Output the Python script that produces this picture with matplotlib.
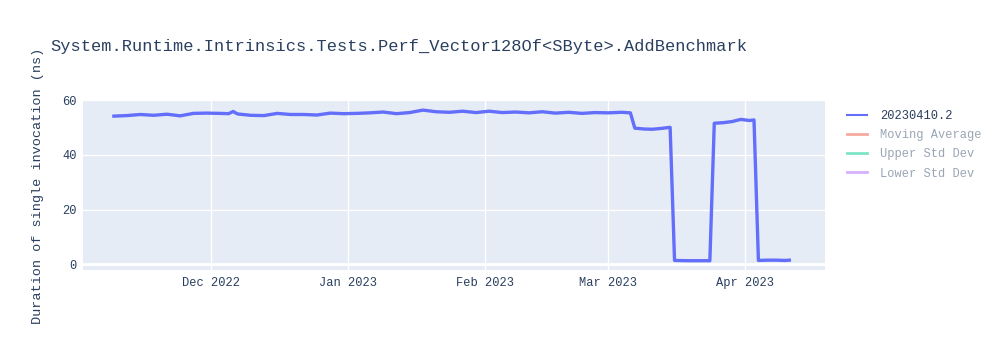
import matplotlib
matplotlib.use("Agg")
import matplotlib.pyplot as plt
import matplotlib.dates as mdates
from matplotlib.lines import Line2D
from datetime import datetime

# ---------------- data ----------------
dates = [
    "2022-11-09", "2022-11-12", "2022-11-15", "2022-11-18", "2022-11-21", "2022-11-24",
    "2022-11-27", "2022-11-30", "2022-12-03", "2022-12-05", "2022-12-06", "2022-12-07",
    "2022-12-10", "2022-12-13", "2022-12-16", "2022-12-19", "2022-12-22", "2022-12-25",
    "2022-12-28", "2022-12-31", "2023-01-03", "2023-01-06", "2023-01-09", "2023-01-12",
    "2023-01-15", "2023-01-18", "2023-01-21", "2023-01-24", "2023-01-27", "2023-01-30",
    "2023-02-02", "2023-02-05", "2023-02-08", "2023-02-11", "2023-02-14", "2023-02-17",
    "2023-02-20", "2023-02-23", "2023-02-26", "2023-03-01", "2023-03-04", "2023-03-06",
    "2023-03-07", "2023-03-09", "2023-03-11", "2023-03-13", "2023-03-15",
    "2023-03-16", "2023-03-19", "2023-03-22", "2023-03-24",
    "2023-03-25", "2023-03-27", "2023-03-29", "2023-03-31", "2023-04-02", "2023-04-03",
    "2023-04-04", "2023-04-06", "2023-04-08", "2023-04-10", "2023-04-11",
]
durations = [
    54.2, 54.4, 54.8, 54.5, 54.9, 54.3,
    55.2, 55.3, 55.2, 55.1, 55.9, 55.0,
    54.5, 54.4, 55.2, 54.8, 54.8, 54.6,
    55.3, 55.1, 55.2, 55.4, 55.7, 55.1,
    55.5, 56.4, 55.8, 55.6, 56.0, 55.5,
    56.0, 55.5, 55.7, 55.4, 55.8, 55.3,
    55.6, 55.2, 55.5, 55.4, 55.6, 55.4,
    49.8, 49.5, 49.4, 49.7, 50.1,
    1.4, 1.3, 1.3, 1.3,
    51.6, 51.8, 52.2, 53.0, 52.6, 52.8,
    1.4, 1.5, 1.5, 1.4, 1.5,
]
series_name = "20230410.2"
legend_labels = [series_name, "Moving Average", "Upper Std Dev", "Lower Std Dev"]
title = "System.Runtime.Intrinsics.Tests.Perf_Vector128Of<SByte>.AddBenchmark"
y_label = "Duration of single invocation (ns)"
y_ticks = [0, 20, 40, 60]

# ---------------- style ----------------
FONT = ["Liberation Mono", "DejaVu Sans Mono"]
TXT = "#2a3f5f"
BG = "#E5ECF6"
plt.rcParams["font.family"] = FONT

x = [datetime.strptime(d, "%Y-%m-%d") for d in dates]

fig = plt.figure(figsize=(10, 3.5), dpi=100)
fig.patch.set_facecolor("white")
ax = fig.add_axes([0.083, 1 - 270 / 350, 0.825 - 0.083, (270 - 100) / 350])
ax.set_facecolor(BG)

ax.plot(x, durations, color="#636efa", lw=2.4, solid_joinstyle="round", zorder=3)

ax.set_xlim(datetime(2022, 11, 2), datetime(2023, 4, 19, 2))
ax.set_ylim(-2.1, 60.1)
ax.set_yticks(y_ticks)
ax.xaxis.set_major_locator(mdates.MonthLocator())
ax.xaxis.set_major_formatter(mdates.DateFormatter("%b %Y"))

ax.grid(True, color="white", lw=1.0, zorder=0)
ax.set_axisbelow(True)
ax.axhline(0, color="white", lw=2.0, zorder=1)
for s in ax.spines.values():
    s.set_visible(False)
ax.tick_params(axis="both", length=0, labelsize=8.64, labelcolor=TXT)
ax.tick_params(axis="y", pad=4.5)
ax.tick_params(axis="x", pad=5)

fig.text(0.05, 1 - 46 / 350, title, fontsize=12.24, color=TXT, va="center", ha="left")
fig.text(0.038, 1 - 186 / 350, y_label, fontsize=9.7, color=TXT,
         rotation=90, va="center", ha="center")

handle_colors = ["#636efa", "#f7aa9d", "#7fe5ca", "#d5b1fc"]
text_colors = [TXT, "#9aa5b5", "#9aa5b5", "#9aa5b5"]
handles = [Line2D([], [], color=c, lw=1.5 if i == 0 else 2.0) for i, c in enumerate(handle_colors)]
fig.legend(handles, legend_labels, loc="upper left", bbox_to_anchor=(0.847, 1 - 110 / 350),
           frameon=False, fontsize=8.64, labelcolor=text_colors, handlelength=1.67,
           handletextpad=1.1, borderpad=0, borderaxespad=0, labelspacing=0.6)

fig.savefig("out.png", dpi=100)
